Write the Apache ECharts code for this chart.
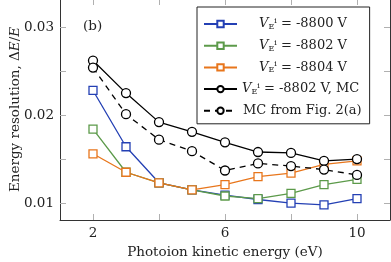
<!DOCTYPE html>
<html><head><meta charset="utf-8">
<script src="https://cdn.jsdelivr.net/npm/echarts@6/dist/echarts.min.js"></script>
<style>html,body{margin:0;padding:0;background:#fff}#c{width:391px;height:262px}</style>
</head><body><div id="c"></div>
<script>
const energies = [2, 3, 4, 5, 6, 7, 8, 9, 10];
const v8800 = [0.0228, 0.0164, 0.0123, 0.0115, 0.0109, 0.0104, 0.0100, 0.0098, 0.0105];
const v8802 = [0.0184, 0.0135, 0.0123, 0.0115, 0.0108, 0.0105, 0.0111, 0.0121, 0.0127];
const v8804 = [0.0156, 0.0135, 0.0123, 0.0115, 0.0121, 0.0130, 0.0134, 0.0144, 0.0148];
const v8802MC = [0.0262, 0.0225, 0.0192, 0.0181, 0.0169, 0.0158, 0.0157, 0.0148, 0.0150];
const mcFig2a = [0.0254, 0.0201, 0.0172, 0.0159, 0.0137, 0.0145, 0.0142, 0.0138, 0.0132];
const xTickLabels = [2, 6, 10];
const xTicks = [2, 4, 6, 8, 10];
const yTickLabels = [0.01, 0.02, 0.03];
const yTicks = [0.01, 0.015, 0.02, 0.025, 0.03];
const seriesNames = ['s8800', 's8802', 's8804', 'sMC', 'sFig'];

const FONT = 'DejaVu Serif';
const FS = 13.5;
const LFS = 13;
const pair = (ys) => energies.map((x, i) => [x, ys[i]]);
const chart = echarts.init(document.getElementById('c'), null, {renderer: 'canvas'});

function mkSeries(name, ys, color, symbol, size, dashed, z) {
  return {
    name: name, type: 'line', data: pair(ys), z: z,
    symbol: symbol, symbolSize: size, showSymbol: true,
    color: color,
    lineStyle: {color: color, width: 1.3, type: dashed ? [6, 5] : 'solid'},
    itemStyle: {color: '#fff', borderColor: color, borderWidth: 1.3},
    emphasis: {disabled: true}, animation: false
  };
}
const vLabel = '{v|V}{sub|E}{sup|i}{t| = }';
const legendText = {
  s8800: '{sp1|}' + vLabel + '{t|-8800 V}',
  s8802: '{sp1|}' + vLabel + '{t|-8802 V}',
  s8804: '{sp1|}' + vLabel + '{t|-8804 V}',
  sMC: '{sp2|}' + vLabel + '{t|-8802 V, MC}',
  sFig: '{sp3|}{t|MC from Fig. 2(a)}'
};
const axisLineStyle = {color: '#333', width: 1};
const tickStyle = {color: '#b0b0b0', width: 1};

chart.setOption({
  animation: false,
  grid: {left: 60, right: 1, top: -1, bottom: 42, containLabel: false, outerBoundsMode: 'none'},
  title: {text: '(b)', left: 83, top: 19, padding: 0, textStyle: {fontFamily: FONT, fontSize: FS, fontWeight: 'normal', color: '#222'}},
  legend: {
    orient: 'vertical', left: 197, top: 7,
    data: seriesNames,
    backgroundColor: '#fff', borderColor: '#222', borderWidth: 1,
    padding: [10, 8, 6, 6], itemGap: 7.7, itemWidth: 33, itemHeight: 8,
    formatter: (n) => legendText[n],
    textStyle: {
      fontFamily: FONT, fontSize: LFS, color: '#222', lineHeight: 14,
      rich: {
        t: {fontFamily: FONT, fontSize: LFS, color: '#222'},
        v: {fontFamily: FONT, fontSize: LFS, fontStyle: 'italic', color: '#222'},
        sub: {fontFamily: FONT, fontSize: 8, color: '#222', verticalAlign: 'bottom', lineHeight: 14, padding: [6, 0, 0, 0]},
        sup: {fontFamily: FONT, fontSize: 8, color: '#222', verticalAlign: 'top', lineHeight: 14, padding: [0, 0, 6, 0]},
        sp1: {width: 17}, sp2: {width: 0}, sp3: {width: 1}
      }
    }
  },
  xAxis: [{
    type: 'value', min: 1, max: 11, position: 'bottom',
    name: 'Photoion kinetic energy (eV)', nameLocation: 'middle', nameGap: 25, nameMoveOverlap: false,
    nameTextStyle: {fontFamily: FONT, fontSize: FS, color: '#222'},
    axisLine: {show: true, onZero: false, lineStyle: axisLineStyle},
    axisTick: {show: true, inside: true, length: 6, customValues: xTicks, lineStyle: tickStyle},
    axisLabel: {show: true, customValues: xTickLabels, fontFamily: FONT, fontSize: FS, color: '#222', margin: 6},
    splitLine: {show: false}, minorTick: {show: false}
  }, {
    type: 'value', min: 1, max: 11, position: 'top',
    axisLine: {show: true, onZero: false, lineStyle: axisLineStyle},
    axisTick: {show: true, inside: true, length: 6, customValues: xTicks, lineStyle: tickStyle},
    axisLabel: {show: false}, splitLine: {show: false}
  }],
  yAxis: [{
    type: 'value', min: 0.00807, max: 0.0332, position: 'left',
    name: 'Energy resolution, Δ{i|E}/{i|E}', nameLocation: 'middle', nameGap: 38, nameRotate: 90, nameMoveOverlap: false,
    nameTextStyle: {fontFamily: FONT, fontSize: FS, color: '#222', rich: {i: {fontFamily: FONT, fontSize: FS, fontStyle: 'italic', color: '#222'}}},
    axisLine: {show: true, onZero: false, lineStyle: axisLineStyle},
    axisTick: {show: true, inside: true, length: 6, customValues: yTicks, lineStyle: tickStyle},
    axisLabel: {show: true, customValues: yTickLabels, formatter: (v) => v.toFixed(2), fontFamily: FONT, fontSize: FS, color: '#222', margin: 6},
    splitLine: {show: false}
  }, {
    type: 'value', min: 0.00807, max: 0.0332, position: 'right',
    axisLine: {show: true, onZero: false, lineStyle: axisLineStyle},
    axisTick: {show: true, inside: true, length: 6, customValues: yTicks, lineStyle: tickStyle},
    axisLabel: {show: false}, splitLine: {show: false}
  }],
  series: [
    mkSeries('s8800', v8800, '#2440b4', 'rect', 8, false, 2),
    mkSeries('s8802', v8802, '#5c9a4a', 'rect', 8, false, 3),
    mkSeries('s8804', v8804, '#e8761c', 'rect', 8, false, 4),
    mkSeries('sMC', v8802MC, '#000', 'circle', 9, false, 5),
    mkSeries('sFig', mcFig2a, '#000', 'circle', 9, true, 6)
  ]
});
</script></body></html>
